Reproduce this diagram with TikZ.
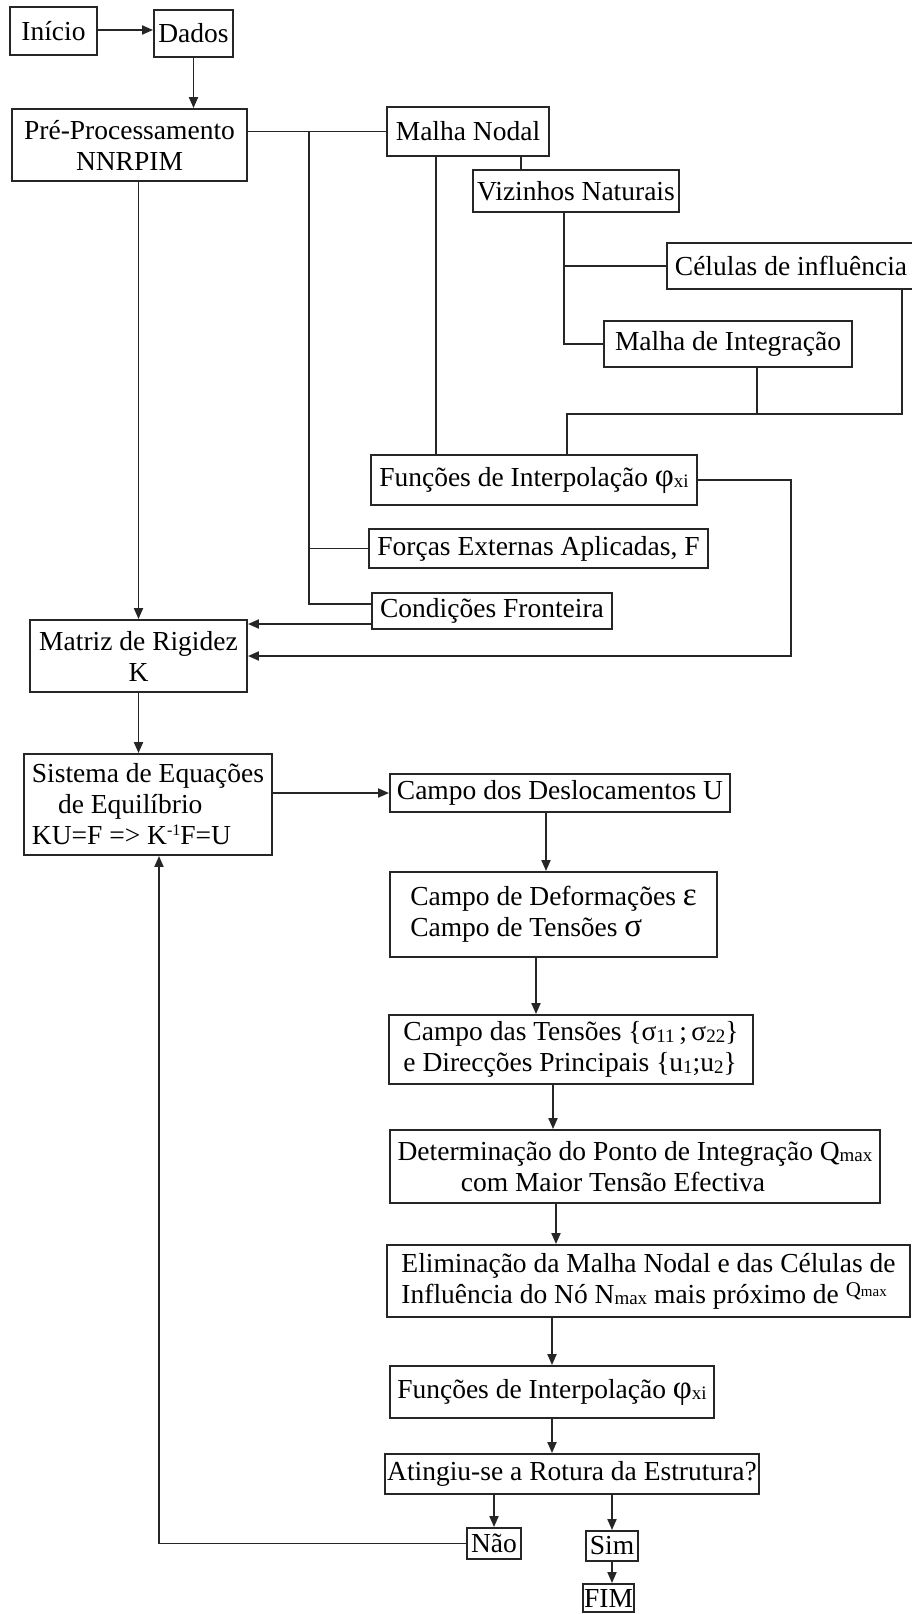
\documentclass[tikz,border=0pt]{standalone}
\usepackage{fontspec}
\setmainfont{Liberation Serif}
\usetikzlibrary{arrows.meta,calc}

\newcommand{\lo}[1]{\raisebox{-1.5pt}{\fontsize{19}{19}\selectfont #1}}
\newcommand{\hi}[1]{\raisebox{9pt}{\fontsize{16}{16}\selectfont #1}}
\newcommand{\gk}[1]{{\fontsize{33}{31}\selectfont #1}}
\newcommand{\qsup}{\raisebox{7pt}{\fontsize{21}{21}\selectfont Q\fontsize{15}{15}\selectfont max}}

\tikzset{
	blk/.style={draw=black!85, line width=1.9pt, inner sep=0pt, align=center,
		font=\fontsize{27.5}{31}\selectfont},
	lft/.style={blk, align=left},
	ln/.style={draw=black!85, line width=1.9pt},
	arr/.style={ln, -{Triangle[length=11pt,width=9pt]}},
}

\begin{document}
\begin{tikzpicture}[x=1pt, y=-1pt]
		\useasboundingbox (0,0) rectangle (912,1614);
		% Start and pre-processing.
		\node[blk, minimum width=87, minimum height=48] (inicio) at (53.5,31) {Início};
		\node[blk, minimum width=79, minimum height=47] (dados) at (193.5,33.5) {Dados};
		\node[blk, minimum width=235, minimum height=72] (pre) at (129.5,145) {Pré-Processamento\\NNRPIM};
		\node[blk, minimum width=162, minimum height=49] (nodal) at (468,131.5) {Malha Nodal};
		\node[blk, minimum width=206, minimum height=42] (viz) at (576,191) {Vizinhos Naturais};
		\node[blk, minimum width=248, minimum height=46] (cel) at (791,266) {Células de influência};
		\node[blk, minimum width=248, minimum height=46] (integ) at (728,344) {Malha de Integração};
		\node[blk, minimum width=326, minimum height=50] (fun1) at (534,480) {Funções de Interpolação \gk{φ}\lo{xi}};
		\node[blk, minimum width=339, minimum height=39] (forcas) at (538.5,548.5) {Forças Externas Aplicadas, F};
		\node[blk, minimum width=240, minimum height=36] (cond) at (492,611) {Condições Fronteira};
		\node[blk, minimum width=217, minimum height=72] (matriz) at (138.5,656) {Matriz de Rigidez\\K};
		% Solution loop.
		\node[lft, minimum width=248, minimum height=101] (sistema) at (148,804.5)
			{Sistema de Equações\\\hspace*{0.95em}de Equilíbrio\\KU=F => K\hi{-1}F=U};
		\node[blk, minimum width=340, minimum height=38] (desl) at (560,793) {Campo dos Deslocamentos U};
		\node[lft, minimum width=327, minimum height=85] (deform) at (553.5,914.5)
			{Campo de Deformações \gk{ε}\\Campo de Tensões \gk{σ}};
		\node[lft, minimum width=364, minimum height=69] (tens) at (571,1049.5)
			{Campo das Tensões \{σ\lo{11}\,;\,σ\lo{22}\}\\e Direcções Principais \{u\lo{1};u\lo{2}\}};
		\node[lft, minimum width=490, minimum height=73] (determ) at (635,1166.5)
			{Determinação do Ponto de Integração Q\lo{max}\\\hspace*{2.3em}com Maior Tensão Efectiva};
		\node[lft, minimum width=523, minimum height=72] (elim) at (648.5,1281)
			{Eliminação da Malha Nodal e das Células de\\Influência do Nó N\lo{max} mais próximo de \qsup};
		\node[blk, minimum width=324, minimum height=52] (fun2) at (552,1392) {Funções de Interpolação \gk{φ}\lo{xi}};
		\node[blk, minimum width=374, minimum height=40] (rotura) at (572,1474) {Atingiu-se a Rotura da Estrutura?};
		\node[blk, minimum width=54, minimum height=31] (nao) at (494,1543.5) {Não};
		\node[blk, minimum width=52, minimum height=30] (sim) at (612,1546) {Sim};
		\node[blk, minimum width=51, minimum height=28] (fim) at (608.5,1598) {FIM};
		% Connectors of the pre-processing tree.
		\draw[arr] ($(inicio.east)+(0,-1)$) -- ($(dados.west)+(0,-3.5)$);
		\draw[arr] (dados.south) -- (dados.south |- pre.north);
		\draw[ln] (nodal.west -| pre.east) -- (nodal.west);
		\coordinate (jp) at ($(pre.east |- nodal.west)+(61,0)$);
		\draw[ln] (jp) |- ($(cond.west)+(0,-7)$);
		\draw[ln] (jp |- forcas.west) -- (forcas.west);
		\coordinate (jn) at ($(nodal.south)+(-32,0)$);
		\draw[ln] (jn) -- (jn |- fun1.north);
		\coordinate (jv) at ($(viz.north west)+(49,0)$);
		\draw[ln] (jv) -- (jv |- nodal.south);
		\coordinate (jz) at ($(viz.south)+(-12,0)$);
		\draw[ln] (jz) |- (integ.west);
		\draw[ln] (jz |- cel.west) -- (cel.west);
		\coordinate (jm) at (567,414);
		\draw[ln] ($(cel.south east)+(-14,0)$) |- (jm) -- (jm |- fun1.north);
		\coordinate (ji) at ($(integ.south)+(29,0)$);
		\draw[ln] (ji) -- (ji |- jm);
		% Into the stiffness matrix.
		\draw[arr] (matriz.north |- pre.south) -- (matriz.north);
		\coordinate (cw) at ($(cond.west)+(0,13)$);
		\draw[arr] (cw) -- (cw -| matriz.east);
		\coordinate (jf) at (791,656);
		\draw[arr] (fun1.east) -| (jf) -- (matriz.east);
		\draw[arr] (matriz.south) -- (matriz.south |- sistema.north);
		% Main chain.
		\draw[arr] (sistema.east |- desl.west) -- (desl.west);
		\coordinate (c1) at ($(desl.south)+(-14,0)$);
		\draw[arr] (c1) -- (c1 |- deform.north);
		\coordinate (c2) at ($(deform.south)+(-17.5,0)$);
		\draw[arr] (c2) -- (c2 |- tens.north);
		\coordinate (c3) at ($(tens.south)+(-18,0)$);
		\draw[arr] (c3) -- (c3 |- determ.north);
		\coordinate (c4) at ($(determ.south)+(-79,0)$);
		\draw[arr] (c4) -- (c4 |- elim.north);
		\draw[arr] (fun2.north |- elim.south) -- (fun2.north);
		\draw[arr] (fun2.south) -- (fun2.south |- rotura.north);
		\draw[arr] (nao.north |- rotura.south) -- (nao.north);
		\draw[arr] (sim.north |- rotura.south) -- (sim.north);
		\draw[arr] (sim.south) -- (sim.south |- fim.north);
		\draw[arr] (nao.west) -| ($(sistema.south)+(11,0)$);
	\end{tikzpicture}
\end{document}
